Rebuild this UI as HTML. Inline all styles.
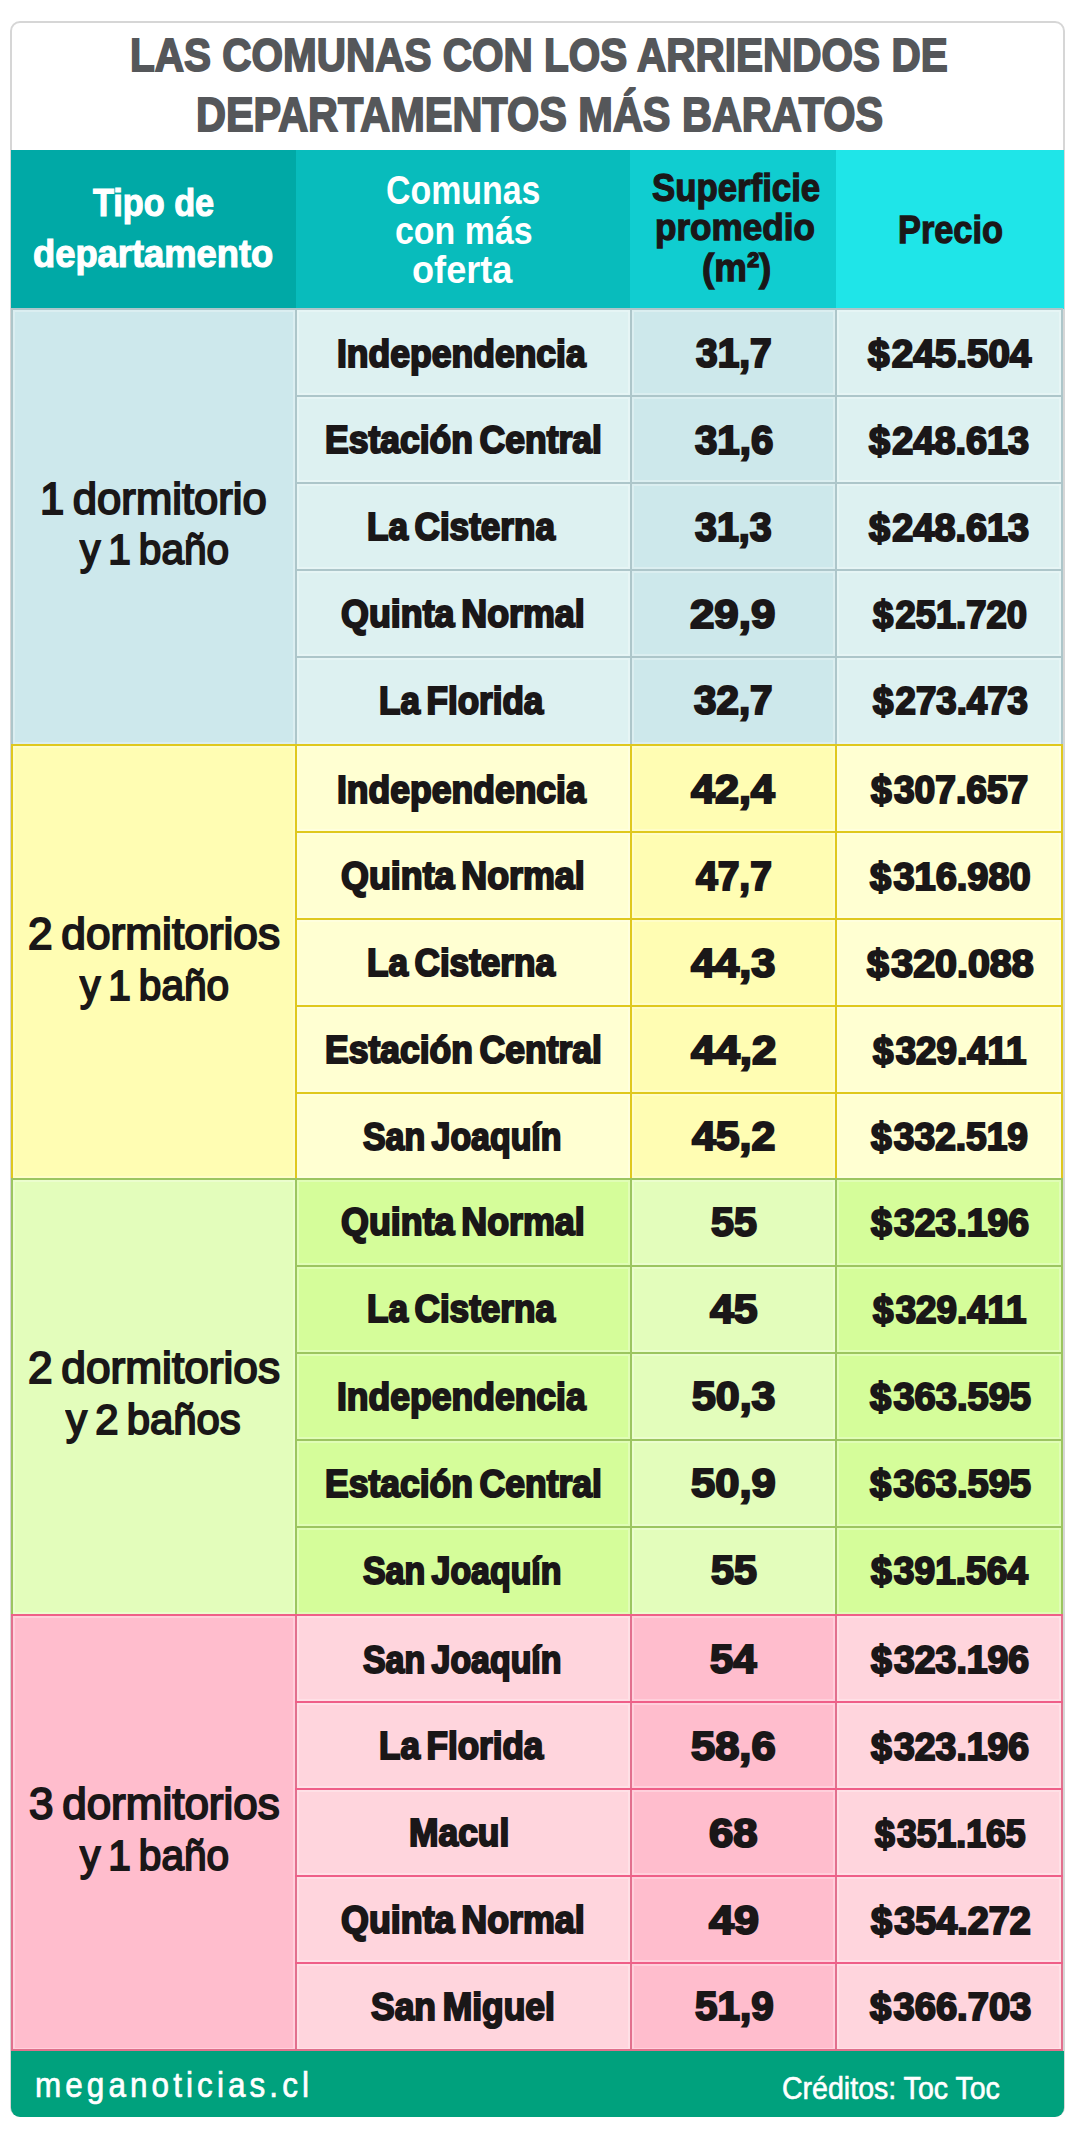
<!DOCTYPE html>
<html lang="es"><head><meta charset="utf-8"><title>Las comunas con los arriendos de departamentos más baratos</title>
<style>
html,body{margin:0;padding:0;background:#fff;}
body{width:1080px;height:2141px;position:relative;overflow:hidden;font-family:"Liberation Sans", sans-serif;}
#g div{position:absolute;}
.t{position:absolute;white-space:nowrap;line-height:1;transform-origin:0 0;margin:0;padding:0;}
</style></head><body>
<div id="g">
<div style="left:10px;top:21px;width:1051px;height:2092px;background:#fff;border:2px solid #d6d6d6;border-radius:10px;"></div>
<div style="left:11px;top:150px;width:285px;height:159px;background:#00a9a6;"></div>
<div style="left:296px;top:150px;width:334px;height:159px;background:#08bcbc;"></div>
<div style="left:630px;top:150px;width:206px;height:159px;background:#10cdd0;"></div>
<div style="left:836px;top:150px;width:228px;height:159px;background:#1fe5e8;"></div>
<div style="left:11px;top:308px;width:286px;height:436px;background:#cde8ec;"></div>
<div style="left:295px;top:308px;width:337px;height:436px;background:#ddf1f1;"></div>
<div style="left:630px;top:308px;width:207px;height:436px;background:#cde8eb;"></div>
<div style="left:835px;top:308px;width:228px;height:436px;background:#ddf1f1;"></div>
<div style="left:11px;top:308px;width:2px;height:436px;background:#adc6ca;"></div>
<div style="left:295px;top:308px;width:2px;height:436px;background:#adc6ca;"></div>
<div style="left:630px;top:308px;width:2px;height:436px;background:#adc6ca;"></div>
<div style="left:835px;top:308px;width:2px;height:436px;background:#adc6ca;"></div>
<div style="left:1061px;top:308px;width:2px;height:436px;background:#adc6ca;"></div>
<div style="left:11px;top:308px;width:1052px;height:2px;background:#adc6ca;"></div>
<div style="left:295px;top:395px;width:768px;height:2px;background:#adc6ca;"></div>
<div style="left:295px;top:482px;width:768px;height:2px;background:#adc6ca;"></div>
<div style="left:295px;top:569px;width:768px;height:2px;background:#adc6ca;"></div>
<div style="left:295px;top:656px;width:768px;height:2px;background:#adc6ca;"></div>
<div style="left:11px;top:744px;width:286px;height:434px;background:#fffdb3;"></div>
<div style="left:295px;top:744px;width:337px;height:434px;background:#ffffd2;"></div>
<div style="left:630px;top:744px;width:207px;height:434px;background:#fffdb3;"></div>
<div style="left:835px;top:744px;width:228px;height:434px;background:#ffffd2;"></div>
<div style="left:11px;top:744px;width:2px;height:434px;background:#dfc81e;"></div>
<div style="left:295px;top:744px;width:2px;height:434px;background:#dfc81e;"></div>
<div style="left:630px;top:744px;width:2px;height:434px;background:#dfc81e;"></div>
<div style="left:835px;top:744px;width:2px;height:434px;background:#dfc81e;"></div>
<div style="left:1061px;top:744px;width:2px;height:434px;background:#dfc81e;"></div>
<div style="left:11px;top:744px;width:1052px;height:2px;background:#dfc81e;"></div>
<div style="left:295px;top:831px;width:768px;height:2px;background:#dfc81e;"></div>
<div style="left:295px;top:918px;width:768px;height:2px;background:#dfc81e;"></div>
<div style="left:295px;top:1005px;width:768px;height:2px;background:#dfc81e;"></div>
<div style="left:295px;top:1092px;width:768px;height:2px;background:#dfc81e;"></div>
<div style="left:11px;top:1178px;width:286px;height:436px;background:#e3fdbb;"></div>
<div style="left:295px;top:1178px;width:337px;height:436px;background:#d5fd9a;"></div>
<div style="left:630px;top:1178px;width:207px;height:436px;background:#e3fdbb;"></div>
<div style="left:835px;top:1178px;width:228px;height:436px;background:#d5fd9a;"></div>
<div style="left:11px;top:1178px;width:2px;height:436px;background:#9cc560;"></div>
<div style="left:295px;top:1178px;width:2px;height:436px;background:#9cc560;"></div>
<div style="left:630px;top:1178px;width:2px;height:436px;background:#9cc560;"></div>
<div style="left:835px;top:1178px;width:2px;height:436px;background:#9cc560;"></div>
<div style="left:1061px;top:1178px;width:2px;height:436px;background:#9cc560;"></div>
<div style="left:11px;top:1178px;width:1052px;height:2px;background:#9cc560;"></div>
<div style="left:295px;top:1265px;width:768px;height:2px;background:#9cc560;"></div>
<div style="left:295px;top:1352px;width:768px;height:2px;background:#9cc560;"></div>
<div style="left:295px;top:1439px;width:768px;height:2px;background:#9cc560;"></div>
<div style="left:295px;top:1526px;width:768px;height:2px;background:#9cc560;"></div>
<div style="left:11px;top:1614px;width:286px;height:436px;background:#ffbdcd;"></div>
<div style="left:295px;top:1614px;width:337px;height:436px;background:#ffd5dd;"></div>
<div style="left:630px;top:1614px;width:207px;height:436px;background:#ffbdcd;"></div>
<div style="left:835px;top:1614px;width:228px;height:436px;background:#ffd5dd;"></div>
<div style="left:11px;top:1614px;width:2px;height:436px;background:#e2708e;"></div>
<div style="left:295px;top:1614px;width:2px;height:436px;background:#e2708e;"></div>
<div style="left:630px;top:1614px;width:2px;height:436px;background:#e2708e;"></div>
<div style="left:835px;top:1614px;width:2px;height:436px;background:#e2708e;"></div>
<div style="left:1061px;top:1614px;width:2px;height:436px;background:#e2708e;"></div>
<div style="left:11px;top:1614px;width:1052px;height:2px;background:#ef5f88;"></div>
<div style="left:295px;top:1701px;width:768px;height:2px;background:#ef5f88;"></div>
<div style="left:295px;top:1788px;width:768px;height:2px;background:#ef5f88;"></div>
<div style="left:295px;top:1875px;width:768px;height:2px;background:#ef5f88;"></div>
<div style="left:295px;top:1962px;width:768px;height:2px;background:#ef5f88;"></div>
<div style="left:13px;top:310px;width:282px;height:434px;background:transparent;box-shadow:inset 0 0 0 2px rgba(255,255,255,.28);"></div>
<div style="left:297px;top:310px;width:333px;height:85px;background:transparent;box-shadow:inset 0 0 0 2px rgba(255,255,255,.28);"></div>
<div style="left:632px;top:310px;width:203px;height:85px;background:transparent;box-shadow:inset 0 0 0 2px rgba(255,255,255,.28);"></div>
<div style="left:837px;top:310px;width:224px;height:85px;background:transparent;box-shadow:inset 0 0 0 2px rgba(255,255,255,.28);"></div>
<div style="left:297px;top:397px;width:333px;height:85px;background:transparent;box-shadow:inset 0 0 0 2px rgba(255,255,255,.28);"></div>
<div style="left:632px;top:397px;width:203px;height:85px;background:transparent;box-shadow:inset 0 0 0 2px rgba(255,255,255,.28);"></div>
<div style="left:837px;top:397px;width:224px;height:85px;background:transparent;box-shadow:inset 0 0 0 2px rgba(255,255,255,.28);"></div>
<div style="left:297px;top:484px;width:333px;height:85px;background:transparent;box-shadow:inset 0 0 0 2px rgba(255,255,255,.28);"></div>
<div style="left:632px;top:484px;width:203px;height:85px;background:transparent;box-shadow:inset 0 0 0 2px rgba(255,255,255,.28);"></div>
<div style="left:837px;top:484px;width:224px;height:85px;background:transparent;box-shadow:inset 0 0 0 2px rgba(255,255,255,.28);"></div>
<div style="left:297px;top:571px;width:333px;height:85px;background:transparent;box-shadow:inset 0 0 0 2px rgba(255,255,255,.28);"></div>
<div style="left:632px;top:571px;width:203px;height:85px;background:transparent;box-shadow:inset 0 0 0 2px rgba(255,255,255,.28);"></div>
<div style="left:837px;top:571px;width:224px;height:85px;background:transparent;box-shadow:inset 0 0 0 2px rgba(255,255,255,.28);"></div>
<div style="left:297px;top:658px;width:333px;height:86px;background:transparent;box-shadow:inset 0 0 0 2px rgba(255,255,255,.28);"></div>
<div style="left:632px;top:658px;width:203px;height:86px;background:transparent;box-shadow:inset 0 0 0 2px rgba(255,255,255,.28);"></div>
<div style="left:837px;top:658px;width:224px;height:86px;background:transparent;box-shadow:inset 0 0 0 2px rgba(255,255,255,.28);"></div>
<div style="left:13px;top:746px;width:282px;height:432px;background:transparent;box-shadow:inset 0 0 0 2px rgba(255,255,255,.28);"></div>
<div style="left:297px;top:746px;width:333px;height:85px;background:transparent;box-shadow:inset 0 0 0 2px rgba(255,255,255,.28);"></div>
<div style="left:632px;top:746px;width:203px;height:85px;background:transparent;box-shadow:inset 0 0 0 2px rgba(255,255,255,.28);"></div>
<div style="left:837px;top:746px;width:224px;height:85px;background:transparent;box-shadow:inset 0 0 0 2px rgba(255,255,255,.28);"></div>
<div style="left:297px;top:833px;width:333px;height:85px;background:transparent;box-shadow:inset 0 0 0 2px rgba(255,255,255,.28);"></div>
<div style="left:632px;top:833px;width:203px;height:85px;background:transparent;box-shadow:inset 0 0 0 2px rgba(255,255,255,.28);"></div>
<div style="left:837px;top:833px;width:224px;height:85px;background:transparent;box-shadow:inset 0 0 0 2px rgba(255,255,255,.28);"></div>
<div style="left:297px;top:920px;width:333px;height:85px;background:transparent;box-shadow:inset 0 0 0 2px rgba(255,255,255,.28);"></div>
<div style="left:632px;top:920px;width:203px;height:85px;background:transparent;box-shadow:inset 0 0 0 2px rgba(255,255,255,.28);"></div>
<div style="left:837px;top:920px;width:224px;height:85px;background:transparent;box-shadow:inset 0 0 0 2px rgba(255,255,255,.28);"></div>
<div style="left:297px;top:1007px;width:333px;height:85px;background:transparent;box-shadow:inset 0 0 0 2px rgba(255,255,255,.28);"></div>
<div style="left:632px;top:1007px;width:203px;height:85px;background:transparent;box-shadow:inset 0 0 0 2px rgba(255,255,255,.28);"></div>
<div style="left:837px;top:1007px;width:224px;height:85px;background:transparent;box-shadow:inset 0 0 0 2px rgba(255,255,255,.28);"></div>
<div style="left:297px;top:1094px;width:333px;height:84px;background:transparent;box-shadow:inset 0 0 0 2px rgba(255,255,255,.28);"></div>
<div style="left:632px;top:1094px;width:203px;height:84px;background:transparent;box-shadow:inset 0 0 0 2px rgba(255,255,255,.28);"></div>
<div style="left:837px;top:1094px;width:224px;height:84px;background:transparent;box-shadow:inset 0 0 0 2px rgba(255,255,255,.28);"></div>
<div style="left:13px;top:1180px;width:282px;height:434px;background:transparent;box-shadow:inset 0 0 0 2px rgba(255,255,255,.28);"></div>
<div style="left:297px;top:1180px;width:333px;height:85px;background:transparent;box-shadow:inset 0 0 0 2px rgba(255,255,255,.28);"></div>
<div style="left:632px;top:1180px;width:203px;height:85px;background:transparent;box-shadow:inset 0 0 0 2px rgba(255,255,255,.28);"></div>
<div style="left:837px;top:1180px;width:224px;height:85px;background:transparent;box-shadow:inset 0 0 0 2px rgba(255,255,255,.28);"></div>
<div style="left:297px;top:1267px;width:333px;height:85px;background:transparent;box-shadow:inset 0 0 0 2px rgba(255,255,255,.28);"></div>
<div style="left:632px;top:1267px;width:203px;height:85px;background:transparent;box-shadow:inset 0 0 0 2px rgba(255,255,255,.28);"></div>
<div style="left:837px;top:1267px;width:224px;height:85px;background:transparent;box-shadow:inset 0 0 0 2px rgba(255,255,255,.28);"></div>
<div style="left:297px;top:1354px;width:333px;height:85px;background:transparent;box-shadow:inset 0 0 0 2px rgba(255,255,255,.28);"></div>
<div style="left:632px;top:1354px;width:203px;height:85px;background:transparent;box-shadow:inset 0 0 0 2px rgba(255,255,255,.28);"></div>
<div style="left:837px;top:1354px;width:224px;height:85px;background:transparent;box-shadow:inset 0 0 0 2px rgba(255,255,255,.28);"></div>
<div style="left:297px;top:1441px;width:333px;height:85px;background:transparent;box-shadow:inset 0 0 0 2px rgba(255,255,255,.28);"></div>
<div style="left:632px;top:1441px;width:203px;height:85px;background:transparent;box-shadow:inset 0 0 0 2px rgba(255,255,255,.28);"></div>
<div style="left:837px;top:1441px;width:224px;height:85px;background:transparent;box-shadow:inset 0 0 0 2px rgba(255,255,255,.28);"></div>
<div style="left:297px;top:1528px;width:333px;height:86px;background:transparent;box-shadow:inset 0 0 0 2px rgba(255,255,255,.28);"></div>
<div style="left:632px;top:1528px;width:203px;height:86px;background:transparent;box-shadow:inset 0 0 0 2px rgba(255,255,255,.28);"></div>
<div style="left:837px;top:1528px;width:224px;height:86px;background:transparent;box-shadow:inset 0 0 0 2px rgba(255,255,255,.28);"></div>
<div style="left:13px;top:1616px;width:282px;height:434px;background:transparent;box-shadow:inset 0 0 0 2px rgba(255,255,255,.28);"></div>
<div style="left:297px;top:1616px;width:333px;height:85px;background:transparent;box-shadow:inset 0 0 0 2px rgba(255,255,255,.28);"></div>
<div style="left:632px;top:1616px;width:203px;height:85px;background:transparent;box-shadow:inset 0 0 0 2px rgba(255,255,255,.28);"></div>
<div style="left:837px;top:1616px;width:224px;height:85px;background:transparent;box-shadow:inset 0 0 0 2px rgba(255,255,255,.28);"></div>
<div style="left:297px;top:1703px;width:333px;height:85px;background:transparent;box-shadow:inset 0 0 0 2px rgba(255,255,255,.28);"></div>
<div style="left:632px;top:1703px;width:203px;height:85px;background:transparent;box-shadow:inset 0 0 0 2px rgba(255,255,255,.28);"></div>
<div style="left:837px;top:1703px;width:224px;height:85px;background:transparent;box-shadow:inset 0 0 0 2px rgba(255,255,255,.28);"></div>
<div style="left:297px;top:1790px;width:333px;height:85px;background:transparent;box-shadow:inset 0 0 0 2px rgba(255,255,255,.28);"></div>
<div style="left:632px;top:1790px;width:203px;height:85px;background:transparent;box-shadow:inset 0 0 0 2px rgba(255,255,255,.28);"></div>
<div style="left:837px;top:1790px;width:224px;height:85px;background:transparent;box-shadow:inset 0 0 0 2px rgba(255,255,255,.28);"></div>
<div style="left:297px;top:1877px;width:333px;height:85px;background:transparent;box-shadow:inset 0 0 0 2px rgba(255,255,255,.28);"></div>
<div style="left:632px;top:1877px;width:203px;height:85px;background:transparent;box-shadow:inset 0 0 0 2px rgba(255,255,255,.28);"></div>
<div style="left:837px;top:1877px;width:224px;height:85px;background:transparent;box-shadow:inset 0 0 0 2px rgba(255,255,255,.28);"></div>
<div style="left:297px;top:1964px;width:333px;height:86px;background:transparent;box-shadow:inset 0 0 0 2px rgba(255,255,255,.28);"></div>
<div style="left:632px;top:1964px;width:203px;height:86px;background:transparent;box-shadow:inset 0 0 0 2px rgba(255,255,255,.28);"></div>
<div style="left:837px;top:1964px;width:224px;height:86px;background:transparent;box-shadow:inset 0 0 0 2px rgba(255,255,255,.28);"></div>
<div style="left:11px;top:2049px;width:1052px;height:1.6px;background:#e0708c;"></div>
<div style="left:11px;top:2050.6px;width:1053px;height:66.6px;background:#00a17d;border-radius:0 0 9px 9px;"></div>
</div>
<div class="t" style="left:130.26px;top:30.70px;font-size:47.09px;transform:scaleX(0.8604);color:#55575a;font-weight:bold;-webkit-text-stroke:1.8px #55575a;">LAS COMUNAS CON LOS ARRIENDOS DE</div>
<div class="t" style="left:195.82px;top:90.91px;font-size:47.24px;transform:scaleX(0.8777);color:#55575a;font-weight:bold;-webkit-text-stroke:1.8px #55575a;">DEPARTAMENTOS MÁS BARATOS</div>
<div class="t" style="left:92.73px;top:182.91px;font-size:39.68px;transform:scaleX(0.8629);color:#fff;font-weight:bold;-webkit-text-stroke:1.2px #fff;">Tipo de</div>
<div class="t" style="left:33.36px;top:234.00px;font-size:39.47px;transform:scaleX(0.9208);color:#fff;font-weight:bold;-webkit-text-stroke:1.2px #fff;">departamento</div>
<div class="t" style="left:385.61px;top:170.00px;font-size:40.10px;transform:scaleX(0.8455);color:#fff;font-weight:bold;">Comunas</div>
<div class="t" style="left:394.78px;top:210.51px;font-size:39.68px;transform:scaleX(0.8549);color:#fff;font-weight:bold;">con más</div>
<div class="t" style="left:412.09px;top:251.20px;font-size:38.37px;transform:scaleX(0.9427);color:#fff;font-weight:bold;">oferta</div>
<div class="t" style="left:651.88px;top:167.96px;font-size:39.06px;transform:scaleX(0.8909);color:#1a1718;font-weight:bold;-webkit-text-stroke:1.3px #1a1718;">Superficie</div>
<div class="t" style="left:654.99px;top:209.35px;font-size:37.54px;transform:scaleX(0.9355);color:#1a1718;font-weight:bold;-webkit-text-stroke:1.3px #1a1718;">promedio</div>
<div class="t" style="left:702.08px;top:248.36px;font-size:39.47px;transform:scaleX(0.9305);color:#1a1718;font-weight:bold;-webkit-text-stroke:1.3px #1a1718;">(m²)</div>
<div class="t" style="left:897.67px;top:210.35px;font-size:39.54px;transform:scaleX(0.8688);color:#1a1718;font-weight:bold;-webkit-text-stroke:1.3px #1a1718;">Precio</div>
<div class="t" style="left:40.42px;top:476.66px;font-size:43.89px;transform:scaleX(0.9937);color:#1a1718;-webkit-text-stroke:1.9px #1a1718;word-spacing:-0.08em;">1 dormitorio</div>
<div class="t" style="left:80.39px;top:528.45px;font-size:43.20px;transform:scaleX(0.9390);color:#1a1718;-webkit-text-stroke:1.9px #1a1718;word-spacing:-0.08em;">y 1 baño</div>
<div class="t" style="left:27.83px;top:912.06px;font-size:44.02px;transform:scaleX(1.0047);color:#1a1718;-webkit-text-stroke:1.9px #1a1718;word-spacing:-0.08em;">2 dormitorios</div>
<div class="t" style="left:80.39px;top:964.06px;font-size:43.20px;transform:scaleX(0.9390);color:#1a1718;-webkit-text-stroke:1.9px #1a1718;word-spacing:-0.08em;">y 1 baño</div>
<div class="t" style="left:27.83px;top:1345.86px;font-size:44.16px;transform:scaleX(1.0016);color:#1a1718;-webkit-text-stroke:1.9px #1a1718;word-spacing:-0.08em;">2 dormitorios</div>
<div class="t" style="left:66.22px;top:1397.76px;font-size:43.33px;transform:scaleX(0.9657);color:#1a1718;-webkit-text-stroke:1.9px #1a1718;word-spacing:-0.08em;">y 2 baños</div>
<div class="t" style="left:29.17px;top:1782.05px;font-size:44.16px;transform:scaleX(0.9963);color:#1a1718;-webkit-text-stroke:1.9px #1a1718;word-spacing:-0.08em;">3 dormitorios</div>
<div class="t" style="left:80.39px;top:1834.06px;font-size:43.20px;transform:scaleX(0.9390);color:#1a1718;-webkit-text-stroke:1.9px #1a1718;word-spacing:-0.08em;">y 1 baño</div>
<div class="t" style="left:337.00px;top:334.65px;font-size:38.37px;transform:scaleX(0.9261);color:#1a1718;font-weight:bold;-webkit-text-stroke:2.1px #1a1718;word-spacing:-0.09em;">Independencia</div>
<div class="t" style="left:696.13px;top:334.05px;font-size:39.97px;transform:scaleX(0.9738);color:#1a1718;font-weight:bold;-webkit-text-stroke:2.1px #1a1718;">31,7</div>
<div class="t" style="left:867.76px;top:336.06px;font-size:37.94px;transform:scaleX(1.0179);color:#1a1718;font-weight:bold;-webkit-text-stroke:2.1px #1a1718;"><span style="letter-spacing:0.06em">$</span>245.504</div>
<div class="t" style="left:324.60px;top:421.49px;font-size:38.37px;transform:scaleX(0.9252);color:#1a1718;font-weight:bold;-webkit-text-stroke:2.1px #1a1718;word-spacing:-0.09em;">Estación Central</div>
<div class="t" style="left:694.93px;top:420.88px;font-size:39.97px;transform:scaleX(1.0060);color:#1a1718;font-weight:bold;-webkit-text-stroke:2.1px #1a1718;">31,6</div>
<div class="t" style="left:869.35px;top:422.89px;font-size:37.94px;transform:scaleX(0.9979);color:#1a1718;font-weight:bold;-webkit-text-stroke:2.1px #1a1718;"><span style="letter-spacing:0.06em">$</span>248.613</div>
<div class="t" style="left:367.41px;top:508.32px;font-size:38.37px;transform:scaleX(0.9147);color:#1a1718;font-weight:bold;-webkit-text-stroke:2.1px #1a1718;word-spacing:-0.09em;">La Cisterna</div>
<div class="t" style="left:694.93px;top:507.72px;font-size:39.97px;transform:scaleX(0.9854);color:#1a1718;font-weight:bold;-webkit-text-stroke:2.1px #1a1718;">31,3</div>
<div class="t" style="left:869.35px;top:509.72px;font-size:37.94px;transform:scaleX(0.9979);color:#1a1718;font-weight:bold;-webkit-text-stroke:2.1px #1a1718;"><span style="letter-spacing:0.06em">$</span>248.613</div>
<div class="t" style="left:341.11px;top:595.15px;font-size:38.37px;transform:scaleX(0.9346);color:#1a1718;font-weight:bold;-webkit-text-stroke:2.1px #1a1718;word-spacing:-0.09em;">Quinta Normal</div>
<div class="t" style="left:690.43px;top:594.55px;font-size:39.97px;transform:scaleX(1.0957);color:#1a1718;font-weight:bold;-webkit-text-stroke:2.1px #1a1718;">29,9</div>
<div class="t" style="left:872.53px;top:596.55px;font-size:37.94px;transform:scaleX(0.9592);color:#1a1718;font-weight:bold;-webkit-text-stroke:2.1px #1a1718;"><span style="letter-spacing:0.06em">$</span>251.720</div>
<div class="t" style="left:379.21px;top:681.98px;font-size:38.37px;transform:scaleX(0.9138);color:#1a1718;font-weight:bold;-webkit-text-stroke:2.1px #1a1718;word-spacing:-0.09em;">La Florida</div>
<div class="t" style="left:694.13px;top:681.38px;font-size:39.97px;transform:scaleX(1.0101);color:#1a1718;font-weight:bold;-webkit-text-stroke:2.1px #1a1718;">32,7</div>
<div class="t" style="left:872.53px;top:683.37px;font-size:37.94px;transform:scaleX(0.9656);color:#1a1718;font-weight:bold;-webkit-text-stroke:2.1px #1a1718;"><span style="letter-spacing:0.06em">$</span>273.473</div>
<div class="t" style="left:337.00px;top:770.65px;font-size:38.37px;transform:scaleX(0.9261);color:#1a1718;font-weight:bold;-webkit-text-stroke:2.1px #1a1718;word-spacing:-0.09em;">Independencia</div>
<div class="t" style="left:691.28px;top:770.05px;font-size:39.97px;transform:scaleX(1.0774);color:#1a1718;font-weight:bold;-webkit-text-stroke:2.1px #1a1718;">42,4</div>
<div class="t" style="left:871.34px;top:772.06px;font-size:37.94px;transform:scaleX(0.9798);color:#1a1718;font-weight:bold;-webkit-text-stroke:2.1px #1a1718;"><span style="letter-spacing:0.06em">$</span>307.657</div>
<div class="t" style="left:341.11px;top:857.49px;font-size:38.37px;transform:scaleX(0.9346);color:#1a1718;font-weight:bold;-webkit-text-stroke:2.1px #1a1718;word-spacing:-0.09em;">Quinta Normal</div>
<div class="t" style="left:695.63px;top:856.88px;font-size:39.97px;transform:scaleX(0.9750);color:#1a1718;font-weight:bold;-webkit-text-stroke:2.1px #1a1718;">47,7</div>
<div class="t" style="left:869.75px;top:858.89px;font-size:37.94px;transform:scaleX(1.0016);color:#1a1718;font-weight:bold;-webkit-text-stroke:2.1px #1a1718;"><span style="letter-spacing:0.06em">$</span>316.980</div>
<div class="t" style="left:367.41px;top:944.32px;font-size:38.37px;transform:scaleX(0.9147);color:#1a1718;font-weight:bold;-webkit-text-stroke:2.1px #1a1718;word-spacing:-0.09em;">La Cisterna</div>
<div class="t" style="left:691.28px;top:943.72px;font-size:39.97px;transform:scaleX(1.0842);color:#1a1718;font-weight:bold;-webkit-text-stroke:2.1px #1a1718;">44,3</div>
<div class="t" style="left:866.57px;top:945.72px;font-size:37.94px;transform:scaleX(1.0389);color:#1a1718;font-weight:bold;-webkit-text-stroke:2.1px #1a1718;"><span style="letter-spacing:0.06em">$</span>320.088</div>
<div class="t" style="left:324.60px;top:1031.15px;font-size:38.37px;transform:scaleX(0.9252);color:#1a1718;font-weight:bold;-webkit-text-stroke:2.1px #1a1718;word-spacing:-0.09em;">Estación Central</div>
<div class="t" style="left:691.29px;top:1030.55px;font-size:39.97px;transform:scaleX(1.0966);color:#1a1718;font-weight:bold;-webkit-text-stroke:2.1px #1a1718;">44,2</div>
<div class="t" style="left:872.53px;top:1032.55px;font-size:37.94px;transform:scaleX(0.9688);color:#1a1718;font-weight:bold;-webkit-text-stroke:2.1px #1a1718;"><span style="letter-spacing:0.06em">$</span>329.411</div>
<div class="t" style="left:362.95px;top:1117.98px;font-size:38.37px;transform:scaleX(0.8836);color:#1a1718;font-weight:bold;-webkit-text-stroke:2.1px #1a1718;word-spacing:-0.09em;">San Joaquín</div>
<div class="t" style="left:692.48px;top:1117.38px;font-size:39.97px;transform:scaleX(1.0709);color:#1a1718;font-weight:bold;-webkit-text-stroke:2.1px #1a1718;">45,2</div>
<div class="t" style="left:871.34px;top:1119.37px;font-size:37.94px;transform:scaleX(0.9782);color:#1a1718;font-weight:bold;-webkit-text-stroke:2.1px #1a1718;"><span style="letter-spacing:0.06em">$</span>332.519</div>
<div class="t" style="left:341.11px;top:1203.26px;font-size:38.37px;transform:scaleX(0.9346);color:#1a1718;font-weight:bold;-webkit-text-stroke:2.1px #1a1718;word-spacing:-0.09em;">Quinta Normal</div>
<div class="t" style="left:711.01px;top:1202.66px;font-size:39.97px;transform:scaleX(1.0312);color:#1a1718;font-weight:bold;-webkit-text-stroke:2.1px #1a1718;">55</div>
<div class="t" style="left:871.34px;top:1204.66px;font-size:37.94px;transform:scaleX(0.9855);color:#1a1718;font-weight:bold;-webkit-text-stroke:2.1px #1a1718;"><span style="letter-spacing:0.06em">$</span>323.196</div>
<div class="t" style="left:367.41px;top:1290.40px;font-size:38.37px;transform:scaleX(0.9147);color:#1a1718;font-weight:bold;-webkit-text-stroke:2.1px #1a1718;word-spacing:-0.09em;">La Cisterna</div>
<div class="t" style="left:709.68px;top:1289.80px;font-size:39.97px;transform:scaleX(1.0704);color:#1a1718;font-weight:bold;-webkit-text-stroke:2.1px #1a1718;">45</div>
<div class="t" style="left:872.53px;top:1291.81px;font-size:37.94px;transform:scaleX(0.9688);color:#1a1718;font-weight:bold;-webkit-text-stroke:2.1px #1a1718;"><span style="letter-spacing:0.06em">$</span>329.411</div>
<div class="t" style="left:337.00px;top:1377.56px;font-size:38.37px;transform:scaleX(0.9261);color:#1a1718;font-weight:bold;-webkit-text-stroke:2.1px #1a1718;word-spacing:-0.09em;">Independencia</div>
<div class="t" style="left:691.81px;top:1376.95px;font-size:39.97px;transform:scaleX(1.0722);color:#1a1718;font-weight:bold;-webkit-text-stroke:2.1px #1a1718;">50,3</div>
<div class="t" style="left:869.75px;top:1378.95px;font-size:37.94px;transform:scaleX(1.0034);color:#1a1718;font-weight:bold;-webkit-text-stroke:2.1px #1a1718;"><span style="letter-spacing:0.06em">$</span>363.595</div>
<div class="t" style="left:324.60px;top:1464.71px;font-size:38.37px;transform:scaleX(0.9252);color:#1a1718;font-weight:bold;-webkit-text-stroke:2.1px #1a1718;word-spacing:-0.09em;">Estación Central</div>
<div class="t" style="left:691.00px;top:1464.11px;font-size:39.97px;transform:scaleX(1.0883);color:#1a1718;font-weight:bold;-webkit-text-stroke:2.1px #1a1718;">50,9</div>
<div class="t" style="left:869.75px;top:1466.11px;font-size:37.94px;transform:scaleX(1.0034);color:#1a1718;font-weight:bold;-webkit-text-stroke:2.1px #1a1718;"><span style="letter-spacing:0.06em">$</span>363.595</div>
<div class="t" style="left:362.95px;top:1551.85px;font-size:38.37px;transform:scaleX(0.8836);color:#1a1718;font-weight:bold;-webkit-text-stroke:2.1px #1a1718;word-spacing:-0.09em;">San Joaquín</div>
<div class="t" style="left:711.01px;top:1551.25px;font-size:39.97px;transform:scaleX(1.0312);color:#1a1718;font-weight:bold;-webkit-text-stroke:2.1px #1a1718;">55</div>
<div class="t" style="left:871.34px;top:1553.25px;font-size:37.94px;transform:scaleX(0.9784);color:#1a1718;font-weight:bold;-webkit-text-stroke:2.1px #1a1718;"><span style="letter-spacing:0.06em">$</span>391.564</div>
<div class="t" style="left:362.95px;top:1640.65px;font-size:38.37px;transform:scaleX(0.8836);color:#1a1718;font-weight:bold;-webkit-text-stroke:2.1px #1a1718;word-spacing:-0.09em;">San Joaquín</div>
<div class="t" style="left:709.81px;top:1640.05px;font-size:39.97px;transform:scaleX(1.0462);color:#1a1718;font-weight:bold;-webkit-text-stroke:2.1px #1a1718;">54</div>
<div class="t" style="left:871.34px;top:1642.06px;font-size:37.94px;transform:scaleX(0.9855);color:#1a1718;font-weight:bold;-webkit-text-stroke:2.1px #1a1718;"><span style="letter-spacing:0.06em">$</span>323.196</div>
<div class="t" style="left:379.21px;top:1727.49px;font-size:38.37px;transform:scaleX(0.9138);color:#1a1718;font-weight:bold;-webkit-text-stroke:2.1px #1a1718;word-spacing:-0.09em;">La Florida</div>
<div class="t" style="left:691.00px;top:1726.88px;font-size:39.97px;transform:scaleX(1.0878);color:#1a1718;font-weight:bold;-webkit-text-stroke:2.1px #1a1718;">58,6</div>
<div class="t" style="left:871.34px;top:1728.89px;font-size:37.94px;transform:scaleX(0.9855);color:#1a1718;font-weight:bold;-webkit-text-stroke:2.1px #1a1718;"><span style="letter-spacing:0.06em">$</span>323.196</div>
<div class="t" style="left:409.20px;top:1814.32px;font-size:38.37px;transform:scaleX(0.9227);color:#1a1718;font-weight:bold;-webkit-text-stroke:2.1px #1a1718;word-spacing:-0.09em;">Macul</div>
<div class="t" style="left:708.75px;top:1813.72px;font-size:39.97px;transform:scaleX(1.0942);color:#1a1718;font-weight:bold;-webkit-text-stroke:2.1px #1a1718;">68</div>
<div class="t" style="left:874.52px;top:1815.72px;font-size:37.94px;transform:scaleX(0.9388);color:#1a1718;font-weight:bold;-webkit-text-stroke:2.1px #1a1718;"><span style="letter-spacing:0.06em">$</span>351.165</div>
<div class="t" style="left:341.11px;top:1901.15px;font-size:38.37px;transform:scaleX(0.9346);color:#1a1718;font-weight:bold;-webkit-text-stroke:2.1px #1a1718;word-spacing:-0.09em;">Quinta Normal</div>
<div class="t" style="left:708.50px;top:1900.55px;font-size:39.97px;transform:scaleX(1.1243);color:#1a1718;font-weight:bold;-webkit-text-stroke:2.1px #1a1718;">49</div>
<div class="t" style="left:870.55px;top:1902.55px;font-size:37.94px;transform:scaleX(0.9963);color:#1a1718;font-weight:bold;-webkit-text-stroke:2.1px #1a1718;"><span style="letter-spacing:0.06em">$</span>354.272</div>
<div class="t" style="left:370.65px;top:1987.98px;font-size:38.37px;transform:scaleX(0.9242);color:#1a1718;font-weight:bold;-webkit-text-stroke:2.1px #1a1718;word-spacing:-0.09em;">San Miguel</div>
<div class="t" style="left:694.62px;top:1987.38px;font-size:39.97px;transform:scaleX(1.0106);color:#1a1718;font-weight:bold;-webkit-text-stroke:2.1px #1a1718;">51,9</div>
<div class="t" style="left:869.75px;top:1989.37px;font-size:37.94px;transform:scaleX(1.0054);color:#1a1718;font-weight:bold;-webkit-text-stroke:2.1px #1a1718;"><span style="letter-spacing:0.06em">$</span>366.703</div>
<div class="t" style="left:34.82px;top:2068.36px;font-size:35.47px;transform:scaleX(0.8867);color:#fff;-webkit-text-stroke:0.7px #fff;letter-spacing:0.13em;">meganoticias.cl</div>
<div class="t" style="left:782.32px;top:2072.50px;font-size:31.47px;transform:scaleX(0.9070);color:#fff;-webkit-text-stroke:0.6px #fff;">Créditos: Toc Toc</div>
</body></html>
